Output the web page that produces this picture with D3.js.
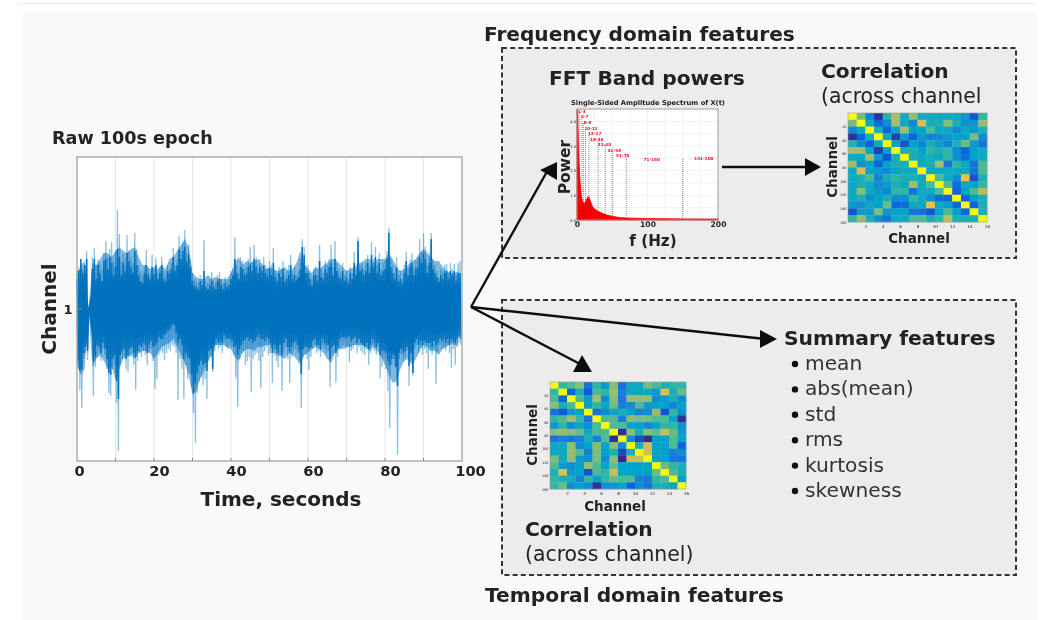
<!DOCTYPE html>
<html lang="en">
<head>
<meta charset="UTF-8">
<title>EEG features</title>
<script src="https://d3js.org/d3.v7.min.js"></script>
<style>
html,body{margin:0;padding:0;background:#fff}
svg{display:block}
text{font-family:"DejaVu Sans",sans-serif;fill:#222}
</style>
</head>
<body>
<script>
// raw trace. spike* = pale tips every 0.5 s, jag* = dark tips every 0.5 s,
// halo* = pale body every 1 s, core* = solid centre every 1 s
var spikeUp = [38,40,44,40,36,58,1,1,52,61, 44,50,46,40,56,68,52,60,67,48,
  58,99,75,48,55,50,74,58,52,46, 76,60,44,38,34,42,59,40,36,54,
  40,51,36,42,52,38,34,44,40,46, 61,44,50,73,58,66,79,56,64,50,
  36,30,28,26,34,30,69,28,26,30, 37,28,26,34,37,30,26,32,28,30,
  38,40,72,44,36,52,48,40,42,50, 62,48,64,52,44,50,46,52,44,40,
  48,44,61,38,36,42,40,48,34,38, 44,54,36,42,34,38,50,70,62,44,
  44,36,30,40,42,34,64,40,36,48, 44,50,64,42,68,46,40,36,46,34,
  38,30,42,36,57,40,72,44,48,40, 46,54,42,67,50,62,44,56,40,46,
  48,58,81,50,44,36,52,34,38,30, 44,57,40,50,56,42,48,52,70,58,
  76,62,44,56,76,50,44,38,32,40, 38,44,45,36,46,40,45,34,46,48];
var spikeDown = [60,81,99,50,44,51,1,1,87,58, 48,44,52,40,46,60,84,87,60,56,
  94,142,56,50,48,60,63,48,44,56, 81,52,44,48,42,46,56,44,40,52,
  80,70,46,42,44,51,44,40,42,36, 38,44,91,50,60,90,56,70,64,78,
  104,134,84,72,68,76,70,90,52,48, 63,42,36,40,38,44,34,38,40,36,
  38,46,69,98,50,44,42,56,52,48, 83,50,46,44,52,79,48,42,38,46,
  44,74,46,52,58,46,82,42,38,50, 74,48,42,40,44,52,99,48,46,50,
  61,48,40,36,44,42,48,36,40,44, 42,78,46,44,73,48,40,38,36,40,
  38,53,42,40,36,44,38,42,44,46, 40,56,44,36,42,46,38,69,58,50,
  60,82,119,56,50,48,146,50,46,52, 48,42,77,52,67,40,36,44,38,46,
  40,44,60,42,46,40,75,44,36,40, 38,42,36,44,59,40,56,38,34,36];
var jagUp = [30,38,50,36,44,50,1,1,40,50, 30,44,36,28,48,50,40,52,46,34,
  42,60,52,34,46,38,56,48,42,36, 58,44,34,28,26,36,44,34,30,42,
  34,44,30,36,44,30,28,38,36,40, 52,38,44,60,50,58,62,48,54,42,
  28,24,22,20,28,24,38,22,20,24, 28,22,20,28,30,24,20,26,22,24,
  30,34,50,36,30,42,40,34,36,42, 44,38,50,42,36,42,38,44,36,32,
  40,34,46,32,28,36,32,40,28,30, 34,44,30,34,28,32,40,62,54,36,
  36,30,24,34,34,28,48,32,30,40, 36,42,46,34,50,38,32,30,38,28,
  32,26,36,30,46,34,68,38,40,34, 38,46,36,54,42,52,36,46,34,38,
  40,50,76,42,36,30,42,28,30,26, 36,48,34,42,46,34,40,42,52,46,
  56,50,36,46,70,40,36,32,28,34, 30,36,38,30,38,34,38,28,36,36];
var jagDown = [52,62,60,44,38,42,1,1,52,48, 36,38,44,34,40,50,64,66,50,46,
  72,90,46,42,40,50,46,40,38,44, 48,42,36,38,34,36,44,36,32,38,
  36,34,28,30,30,26,24,22,20,16, 14,24,34,30,36,50,44,48,50,66,
  84,74,64,56,52,56,54,62,42,40, 60,36,30,34,32,34,26,30,30,30,
  32,38,37,46,40,36,32,30,28,32, 30,34,32,28,26,30,30,32,28,30,
  34,44,36,40,44,36,46,34,30,38, 42,38,34,32,36,42,65,40,38,38,
  40,38,32,30,36,36,40,30,34,36, 36,50,38,36,44,38,30,28,28,30,
  28,27,32,30,28,34,30,34,36,38, 34,40,36,30,34,38,34,46,42,42,
  44,52,56,50,46,58,77,44,40,44, 42,38,57,44,64,34,30,36,32,36,
  32,34,34,34,38,32,36,34,30,32, 30,34,30,36,30,32,34,30,28,30];
var haloUp = [36,44,48,1,46,44,50,56,56,52, 58,62,58,56,60,62,52,44,44,40,
  42,40,44,40,50,52,58,64,70,62, 36,32,30,30,34,30,32,30,30,30,
  36,46,52,44,48,46,48,50,44,40, 42,40,38,40,42,38,40,46,58,44,
  40,36,42,40,44,46,50,50,46,42, 38,40,42,46,46,50,50,46,50,50,
  50,56,50,42,38,40,44,48,50,56, 60,56,50,48,48,42,38,36,36,38];
var haloDown = [56,66,60,1,58,50,46,52,60,58, 70,60,50,48,46,50,44,42,42,44,
  50,44,38,36,34,30,38,46,54,66, 86,82,70,62,52,46,36,36,36,38,
  40,48,52,44,40,40,42,38,38,36, 36,42,46,48,50,44,46,50,56,46,
  44,40,38,40,44,50,54,44,40,40, 38,38,36,36,36,38,42,38,42,48,
  56,66,74,72,60,52,50,56,50,42, 36,38,42,42,46,40,38,34,36,36];
var coreUp = [22,24,26,1,24,22,26,28,28,30, 30,32,30,28,30,34,28,24,22,24,
  24,24,26,24,28,30,34,40,44,38, 20,18,16,16,18,16,16,16,16,18,
  20,26,28,24,26,26,26,28,26,24, 24,22,20,22,24,20,22,28,32,24,
  22,20,22,22,24,24,28,26,24,22, 22,20,24,24,26,26,28,26,28,28,
  28,30,26,24,22,20,24,26,26,30, 34,32,28,26,26,22,22,20,22,22];
var coreDown = [30,34,32,1,30,26,24,26,28,30, 36,30,26,26,26,26,24,22,22,24,
  26,22,20,18,16,14,20,26,32,40, 52,48,42,34,28,24,20,20,20,20,
  22,26,26,22,20,20,22,18,18,18, 18,20,24,24,24,20,22,26,30,24,
  22,20,20,22,24,26,28,24,22,20, 20,20,18,18,18,20,22,20,22,26,
  32,40,42,46,38,30,28,30,28,24, 18,20,24,24,26,22,20,18,20,20];
var timeTicks = [0,20,40,60,80,100];
var timeGrid = [10,20,30,40,50,60,70,80,90];

// amplitude spectrum
var specFreq = [0,0.5,1,2,3,4,5,6,7,8,10,12,14,16,18,20,22,25,30,40,50,60,70,100,150,200];
var specAmp = [4.5,4.5,4.4,3,2.3,1.7,1.3,1,.85,.75,.65,.75,.85,.95,.85,.7,.55,.45,.35,.22,.15,.1,.08,.06,.045,.04];
var bandLabels = ['1-3','4-7','8-9','10-12','13-17','18-30','31-40','41-50','51-70','71-150','151-200'];
var bandLabelFreq = [7,11,15,20,25,28,39,53,65,106,180];
var bandLevel = [4.39,4.19,3.96,3.72,3.5,3.27,3.05,2.82,2.61,2.47,2.49];
var bandEdge = [3,7,9,12,17,30,40,50,70,150];

// upper triangles of the two correlation matrices, diagonal first
var freqCorr = [
  [1,.62,.28,.02,.48,.72,.42,.68,.42,.42,.42,.42,.42,.35,.1,.5],
  [1,.42,.15,.3,.7,.42,.3,.82,.45,.45,.65,.45,.3,.35,.68],
  [1,.45,.15,.4,.7,.4,.4,.55,.42,.42,.3,.42,.35,.45],
  [1,.42,.05,.35,.15,.35,.25,.3,.35,.4,.4,.62,.3],
  [1,.4,.1,.4,.28,.45,.35,.28,.45,.6,.35,.2],
  [1,.45,.45,.4,.5,.45,.5,.3,.15,.4,.42],
  [1,.45,.42,.45,.42,.5,.3,.18,.4,.42],
  [1,.42,.45,.7,.2,.5,.42,.2,.55],
  [1,.42,.42,.42,.42,.42,.2,.55],
  [1,.55,.42,.3,.85,.1,.45],
  [1,.55,.18,.42,.4,.5],
  [1,.15,.4,.55,.75],
  [1,.15,.4,.45],
  [1,.15,.45],
  [1,.45],
  [1]];
var tempCorr = [
  [1,.5,.55,.65,.2,.5,.35,.65,.2,.42,.42,.62,.55,.45,.5,.5],
  [1,.15,.45,.12,.55,.5,.68,.25,.42,.42,.42,.35,.82,.45,.6],
  [1,.55,.35,.7,.3,.65,.22,.68,.68,.68,.3,.35,.45,.3],
  [1,.4,.5,.42,.6,.25,.3,.55,.35,.4,.4,.25,.4],
  [1,.2,.3,.42,.45,.4,.25,.3,.68,.1,.5,.3],
  [1,.55,.55,.25,.65,.62,.62,.55,.55,.4,.02],
  [1,.55,.55,.4,.4,.3,.4,.5,.5,.3],
  [1,.02,.65,.45,.65,.6,.8,.6,.35],
  [1,.3,.08,0,.4,.4,.55,.4],
  [1,.45,.8,.4,.4,.55,.15],
  [1,.8,.4,.4,.25,.3],
  [1,.4,.4,.22,.2],
  [1,.6,.5,.45],
  [1,.55,.45],
  [1,.4],
  [1]];
var channelTicksX = [2,4,6,8,10,12,14,16];
var channelTicksY = [20,40,60,80,100,120,140,160];

var summaryItems = ['mean','abs(mean)','std','rms','kurtosis','skewness'];

var svg = d3.select('body').append('svg').attr('width',1048).attr('height',620);

var defs = svg.append('defs');
defs.append('filter').attr('id','soft').append('feGaussianBlur').attr('stdDeviation',0.4);
defs.append('filter').attr('id','softer').append('feGaussianBlur').attr('stdDeviation',0.75);

var root = svg.append('g').attr('filter','url(#soft)');

root.append('line').attr('x1',17).attr('x2',1037).attr('y1',3.5).attr('y2',3.5).attr('stroke','#eeeeee');
root.append('rect').attr('x',22).attr('y',12).attr('width',1015).attr('height',608).attr('fill','#f9f9f9');

var boxes = [[502,48,514,210],[502,300,514,275]];
root.selectAll('rect.box').data(boxes).enter().append('rect').attr('class','box')
  .attr('x',d=>d[0]).attr('y',d=>d[1]).attr('width',d=>d[2]).attr('height',d=>d[3])
  .attr('fill','#ececec').attr('stroke','#333').attr('stroke-width',2).attr('stroke-dasharray','5 3.2');

function label(txt,x,y,size,bold,anchor,rot){
  var t = root.append('text').text(txt).attr('font-size',size)
    .attr('font-weight',bold?'bold':'normal').attr('text-anchor',anchor||'start');
  if(rot) t.attr('transform','translate('+x+','+y+') rotate(-90)');
  else t.attr('x',x).attr('y',y);
  return t;
}

// raw trace
var x = d3.scaleLinear().domain([0,100]).range([77,462]);
var y = d3.scaleLinear().domain([-152,152]).range([461,157]);
var plot = root.append('g');
plot.append('rect').attr('x',77).attr('y',157).attr('width',385).attr('height',304).attr('fill','#fff');
plot.selectAll('line.grid').data(timeGrid).enter().append('line').attr('class','grid')
  .attr('x1',d=>x(d)).attr('x2',d=>x(d)).attr('y1',157).attr('y2',461)
  .attr('stroke','#e6e6e6').attr('stroke-width',1);

function zigzag(up,down){
  var pts = [];
  up.forEach(function(v,i){
    pts.push([i*0.5,v]);
    pts.push([i*0.5+0.25,-down[i]]);
  });
  return pts;
}
var zigLine = d3.line().x(d=>x(d[0])).y(d=>y(d[1]));
var bodyArea = d3.area().x(d=>x(d[0])).y0(d=>y(d[2])).y1(d=>y(d[1]));

plot.append('path').datum(haloUp.map((v,i)=>[i,v,-haloDown[i]]))
  .attr('d',bodyArea).attr('fill','#0072bd').attr('fill-opacity',0.5);
plot.append('path').datum(zigzag(spikeUp,spikeDown)).attr('d',zigLine)
  .attr('fill','none').attr('stroke','#0072bd').attr('stroke-width',1.3).attr('stroke-opacity',0.45);
plot.append('path').datum(zigzag(jagUp,jagDown)).attr('d',zigLine)
  .attr('fill','none').attr('stroke','#0072bd').attr('stroke-width',1.5);
plot.append('path').datum(coreUp.map((v,i)=>[i,v,-coreDown[i]]))
  .attr('d',bodyArea).attr('fill','#0072bd');

var xAxis = d3.axisBottom(x).tickValues(timeTicks).tickSize(0).tickPadding(5).tickFormat(d3.format('d'));
var gx = plot.append('g').attr('transform','translate(0,461)').call(xAxis);
gx.select('.domain').remove();
gx.selectAll('text').attr('font-size',14.6).attr('font-weight','bold').attr('font-family','DejaVu Sans').attr('fill','#333')
  .attr('dx',d=>d==0?2:(d==100?8:5));
plot.append('rect').attr('x',77).attr('y',157).attr('width',385).attr('height',304)
  .attr('fill','none').attr('stroke','#a8a8a8').attr('stroke-width',1.4);
plot.selectAll('line.tick10').data(timeGrid).enter().append('line').attr('class','tick10')
  .attr('x1',d=>x(d)).attr('x2',d=>x(d)).attr('y1',461).attr('y2',458).attr('stroke','#888');
plot.append('line').attr('x1',77).attr('x2',82).attr('y1',y(0)).attr('y2',y(0)).attr('stroke','#888');

label('Raw 100s epoch',52,144,17.6,true);
label('1',68,314,13,true,'middle');
label('Channel',56,309,20,true,'middle',true).attr('fill','#333');
label('Time, seconds',281,506,20,true,'middle').attr('fill','#333');

// spectrum
var fx = d3.scaleLinear().domain([0,200]).range([577,718]);
var fy = d3.scaleLinear().domain([0,4.5]).range([220,109]);
var spec = root.append('g');
spec.append('rect').attr('x',577).attr('y',109).attr('width',141).attr('height',111).attr('fill','#fff');
spec.selectAll('line.vg').data(d3.range(0,201,25)).enter().append('line').attr('class','vg')
  .attr('x1',d=>fx(d)).attr('x2',d=>fx(d)).attr('y1',109).attr('y2',220).attr('stroke','#e4e4e4').attr('stroke-width',.5);
spec.selectAll('line.hg').data(d3.range(0,4.6,.5)).enter().append('line').attr('class','hg')
  .attr('y1',d=>fy(d)).attr('y2',d=>fy(d)).attr('x1',577).attr('x2',718).attr('stroke','#e4e4e4').attr('stroke-width',.5);
spec.append('path').datum(specFreq.map((f,i)=>[f,specAmp[i]]))
  .attr('d',d3.area().x(d=>fx(d[0])).y0(fy(0)).y1(d=>fy(d[1])))
  .attr('fill','#f00').attr('stroke','#f00').attr('stroke-width',.8);
spec.selectAll('line.band').data(bandEdge).enter().append('line').attr('class','band')
  .attr('x1',d=>fx(d)).attr('x2',d=>fx(d)).attr('y1',fy(0)).attr('y2',(d,i)=>fy(bandLevel[i]))
  .attr('stroke','#333').attr('stroke-width',.6).attr('stroke-dasharray','1 1');
spec.selectAll('text.band').data(bandLabels).enter().append('text').attr('class','band')
  .attr('x',(d,i)=>fx(bandLabelFreq[i])).attr('y',(d,i)=>fy(bandLevel[i])+1.5)
  .attr('text-anchor','middle').attr('font-size',4.2).attr('font-weight','bold')
  .style('fill','#f01020').text(d=>d);
spec.append('rect').attr('x',577).attr('y',109).attr('width',141).attr('height',111)
  .attr('fill','none').attr('stroke','#999').attr('stroke-width',.9);
var fAxis = d3.axisBottom(fx).tickValues([0,100,200]).tickSize(0).tickPadding(2);
var gf = spec.append('g').attr('transform','translate(0,220)').call(fAxis);
gf.select('.domain').remove();
gf.selectAll('text').attr('font-size',7.6).attr('font-weight','bold').attr('font-family','DejaVu Sans').attr('fill','#444');
var ayAxis = d3.axisLeft(fy).tickValues([0,1,2,3,4]).tickSize(0).tickPadding(1);
var ga = spec.append('g').attr('transform','translate(577,0)').call(ayAxis);
ga.select('.domain').remove();
ga.selectAll('text').attr('font-size',3.6).attr('font-family','DejaVu Sans').attr('fill','#444');

label('Single-Sided Amplitude Spectrum of X(t)',648,105,6.7,true,'middle');
label('Power',570,167,15.5,true,'middle',true).attr('fill','#333');
label('f (Hz)',653,246,15.2,true,'middle').attr('fill','#333');

// parula-like ramp, the colours of the matrices
var parula = d3.scaleLinear()
  .domain([0,.12,.25,.4,.5,.65,.8,.9,1])
  .range(['#352a87','#0f5cdd','#1481d6','#06a4ca','#2eb7a4','#87bf77','#d1bb59','#fec832','#f9fb0e']);

function heatmap(tri,x0,x1,y0,y1){
  var n = tri.length;
  var cells = [];
  tri.forEach(function(row,i){
    row.forEach(function(v,k){
      var j = i+k;
      cells.push({r:i,c:j,v:v});
      if(j!=i) cells.push({r:j,c:i,v:v});
    });
  });
  var cx = d3.scaleBand().domain(d3.range(n)).range([x0,x1]);
  var cy = d3.scaleBand().domain(d3.range(n)).range([y0,y1]);
  var g = root.append('g');
  g.append('g').attr('filter','url(#softer)').selectAll('rect').data(cells).enter().append('rect')
    .attr('x',d=>cx(d.c)).attr('y',d=>cy(d.r))
    .attr('width',cx.bandwidth()+.3).attr('height',cy.bandwidth()+.3)
    .attr('fill',d=>parula(d.v));
  g.append('rect').attr('x',x0).attr('y',y0).attr('width',x1-x0).attr('height',y1-y0)
    .attr('fill','none').attr('stroke','#999').attr('stroke-width',.6);
  var tx = d3.scaleLinear().domain([0,16]).range([x0,x1]);
  var ty = d3.scaleLinear().domain([0,160]).range([y0,y1]);
  var ax = g.append('g').attr('transform','translate(0,'+y1+')').call(d3.axisBottom(tx).tickValues(channelTicksX).tickSize(0).tickPadding(3));
  var ay = g.append('g').attr('transform','translate('+x0+',0)').call(d3.axisLeft(ty).tickValues(channelTicksY).tickSize(0).tickPadding(1.5));
  ax.select('.domain').remove(); ay.select('.domain').remove();
  ax.selectAll('text').attr('font-size',4.2).attr('font-family','DejaVu Sans').attr('fill','#555');
  ay.selectAll('text').attr('font-size',3.4).attr('font-family','DejaVu Sans').attr('fill','#555');
}
heatmap(freqCorr,848,987,113,222);
heatmap(tempCorr,550,686,382,489);

label('Channel',837,167,13.5,true,'middle',true);
label('Channel',919,243,13.5,true,'middle');
label('Channel',537,435,13.5,true,'middle',true);
label('Channel',615,511,13.5,true,'middle');

// headings
label('Frequency domain features',484,41,20.1,true);
label('Temporal domain features',485,602,20.2,true);
label('FFT Band powers',549,85,20.2,true);
label('Correlation',821,78,20.2,true);
label('(across channel',821,103,20.4,false).attr('fill','#333');
label('Correlation',525,536,20.2,true);
label('(across channel)',525,561,20.4,false).attr('fill','#333');
label('Summary features',784,345,20.3,true);

var bulletY = d3.scalePoint().domain(summaryItems).range([364,491]);
root.selectAll('circle.bullet').data(summaryItems).enter().append('circle').attr('class','bullet')
  .attr('cx',795).attr('cy',d=>bulletY(d)).attr('r',3.2).attr('fill','#111');
root.selectAll('text.item').data(summaryItems).enter().append('text').attr('class','item')
  .attr('x',805).attr('y',d=>bulletY(d)+6).attr('font-size',20.2).style('fill','#333').text(d=>d);

// arrows
function arrow(pts,head){
  root.append('path').attr('d',d3.line()(pts)).attr('fill','none').attr('stroke','#111').attr('stroke-width',2.4);
  root.append('path').attr('d',d3.line()(head)+'Z').attr('fill','#111');
}
arrow([[471,307],[549,168]],[[540,170],[557,162],[557,180]]);
arrow([[471,307],[765,339]],[[760,330],[777,339],[760,348]]);
arrow([[471,307],[582,365]],[[573,372],[592,372],[582,355]]);
arrow([[722,167],[806,167]],[[805,158],[821,167],[805,176]]);
</script>
</body>
</html>
